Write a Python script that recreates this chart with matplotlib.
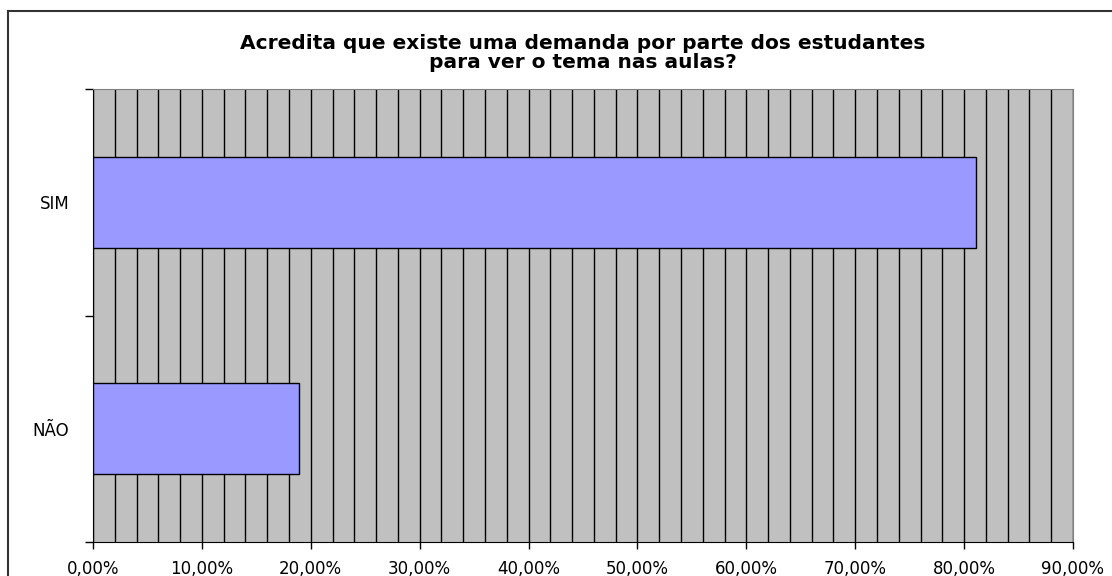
import matplotlib.pyplot as plt
from matplotlib.lines import Line2D
import numpy as np

plt.rcParams['font.family'] = ['DejaVu Sans']

categories = ['NÃO', 'SIM']
values = [18.92, 81.08]          # percent
title = 'Acredita que existe uma demanda por parte dos estudantes\npara ver o tema nas aulas?'
x_ticks = list(range(0, 91, 10))

W, H = 1112, 576
fig = plt.figure(figsize=(W / 100, H / 100), dpi=100)

# outer chart border (left + top visible)
fig.add_artist(Line2D([8 / W, 8 / W], [0, 1 - 11 / H], color='#333333', lw=1.5, transform=fig.transFigure))
fig.add_artist(Line2D([8 / W, 1], [1 - 11 / H, 1 - 11 / H], color='#333333', lw=1.5, transform=fig.transFigure))

ax = fig.add_axes([93 / W, 1 - 542 / H, (1073 - 93) / W, (542 - 89) / H])
ax.set_facecolor('#C0C0C0')

pos = np.arange(len(categories))
ax.barh(pos, values, height=0.4, color='#9999FF', edgecolor='black', linewidth=1, zorder=3)

ax.set_xlim(0, 90)
ax.set_ylim(-0.5, len(categories) - 0.5)

ax.set_xticks(x_ticks)
ax.set_xticklabels([f'{v:.2f}%'.replace('.', ',') for v in x_ticks], fontsize=12)
ax.set_xticks(np.arange(0, 91, 2), minor=True)
ax.tick_params(axis='x', which='major', length=5, width=1, color='black', pad=8)
ax.tick_params(axis='x', which='minor', length=0)
ax.grid(axis='x', which='both', color='black', lw=1, zorder=1)
ax.set_axisbelow(True)

ax.set_yticks(pos)
ax.set_yticklabels(categories, fontsize=12)
ax.set_yticks(np.arange(-0.5, len(categories), 1), minor=True)
ax.tick_params(axis='y', which='major', length=0, pad=17)
ax.tick_params(axis='y', which='minor', length=6, width=1, color='black')

for s in ['top', 'right']:
    ax.spines[s].set_color('#808080')
for s in ['left', 'bottom']:
    ax.spines[s].set_color('black')

fig.text((93 + 1073) / 2 / W, 1 - 53 / H, title, ha='center', va='center',
         fontsize=14.5, fontweight='bold', linespacing=0.95)

fig.savefig('out.png', dpi=100)
